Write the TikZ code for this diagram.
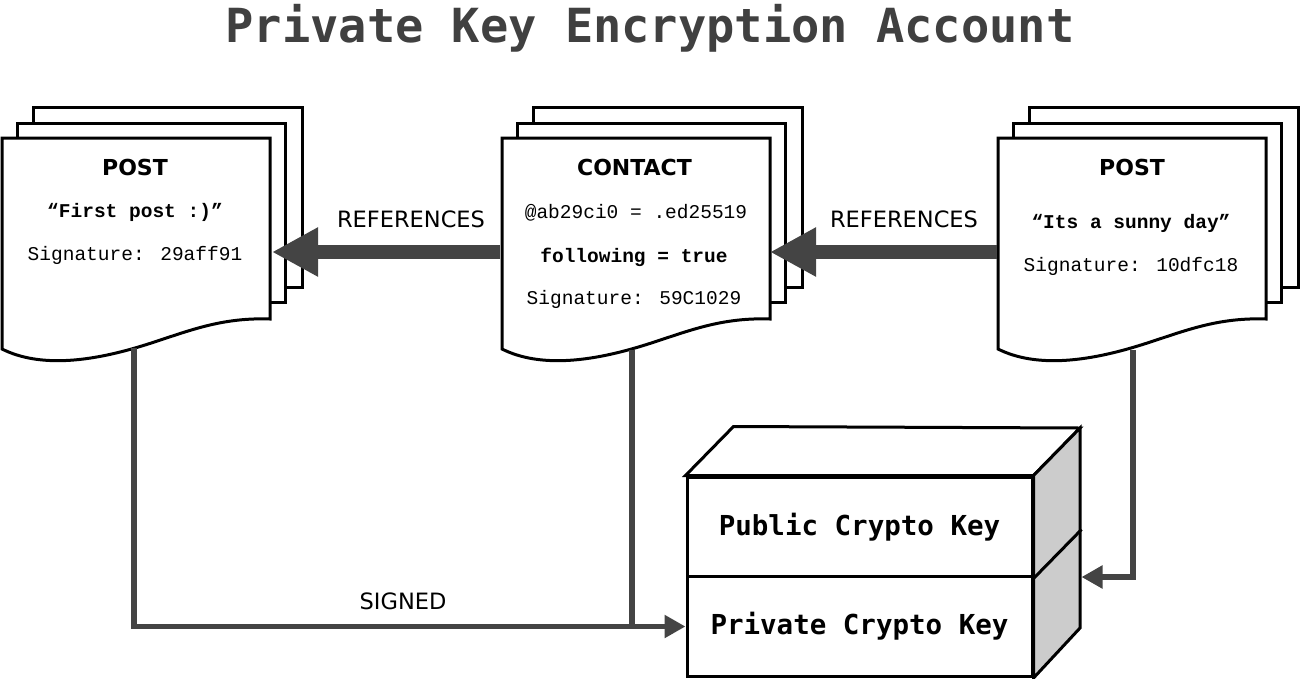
\documentclass[tikz,border=0pt]{standalone}
\usepackage{fontspec}
\setmainfont{DejaVu Sans}
\newfontfamily\dmono{DejaVu Sans Mono}
\newfontfamily\cour{Liberation Mono}
\usetikzlibrary{arrows.meta}
\definecolor{arrowgray}{HTML}{444444}
\definecolor{titlegray}{HTML}{404040}
\definecolor{facegray}{HTML}{CCCCCC}
\tikzset{
  sheet/.style={draw=black, fill=white, line width=3pt, line join=miter},
  doctitle/.style={font=\bfseries\fontsize{22}{26}\selectfont, anchor=base},
  doctext/.style={font=\cour\fontsize{19.5}{23}\selectfont, anchor=base},
  docbold/.style={font=\cour\bfseries\fontsize{19.5}{23}\selectfont, anchor=base},
  reflabel/.style={font=\fontsize{22.5}{26}\selectfont},
  bigarrow/.style={draw=arrowgray, line width=14pt, -{Triangle[length=46pt,width=46pt]}},
  conn/.style={draw=arrowgray, line width=5.5pt, line join=miter},
  connarrow/.style={conn, -{Triangle[length=21pt,width=22pt]}},
  keybox/.style={draw=black, fill=white, line width=3pt, minimum width=345pt, minimum height=100pt, inner sep=0pt, font=\dmono\bfseries\fontsize{27.5}{32}\selectfont},
  boxline/.style={draw=black, line width=3pt, line join=miter},
  docstack/.pic={
    \draw[sheet] (31,-31) rectangle (300,149);
    \draw[sheet] (15,-15) rectangle (283,164);
    \draw[sheet] (0,0) -- (268,0) -- (268,181) .. controls (213,179) and (178,197) .. (133,210) .. controls (88,223) and (38,230) .. (0,211) -- cycle;
  }
}
\begin{document}
\begin{tikzpicture}[x=1pt,y=-1pt]
\useasboundingbox (0,0) rectangle (1300,678);

% title
\node[anchor=base, text=titlegray, font=\dmono\bfseries\fontsize{47}{54}\selectfont] (title) at (650,42) {Private Key Encryption Account};

% document stacks
\pic at (2,138) {docstack};
\pic at (502,138) {docstack};
\pic at (998,138) {docstack};

% left post
\node[doctitle] (p1h) at (135,175) {POST};
\node[docbold] (p1q) at (135,217) {“First post :)”};
\node[doctext] (p1s) at (135,260) {Signature: 29aff91};

% contact
\node[doctitle] (ch) at (634.5,175) {CONTACT};
\node[doctext] (ca) at (636,218) {@ab29ci0 = .ed25519};
\node[docbold] (cf) at (634,262) {following = true};
\node[doctext] (cs) at (634,304) {Signature: 59C1029};

% right post
\node[doctitle] (p2h) at (1132,175) {POST};
\node[docbold] (p2q) at (1131,228) {“Its a sunny day”};
\node[doctext] (p2s) at (1131,271) {Signature: 10dfc18};

% key box
\node[keybox] (pub) at (859.5,527) {Public Crypto Key};
\node[keybox] (priv) at (859.5,626.5) {Private Crypto Key};
\coordinate (tb) at (1080,428);
\coordinate (bb) at (1080,628);
\draw[boxline, fill=white] (pub.north west) -- ++(48,-49) -- (tb) -- (pub.north east) -- cycle;
\draw[boxline, fill=facegray] (pub.north east) -- (tb) -- (bb) -- (priv.south east) -- cycle;
\draw[boxline] (pub.south east) -- ++(48,-49);

% connector coordinates
\coordinate (p1r) at (272,252);
\coordinate (cl) at (500,252);
\coordinate (cr) at (770,252);
\coordinate (p2l) at (996.5,252);
\coordinate (p1b) at (134,348);
\coordinate (cb) at (632,350);
\coordinate (p2b) at (1133,350);
\coordinate (boxr) at (1081.5,577);

% references arrows
\draw[bigarrow] (cl) -- (p1r);
\draw[bigarrow] (p2l) -- (cr);
\node[reflabel] (ref1) at (411,219) {REFERENCES};
\node[reflabel] (ref2) at (904,219) {REFERENCES};

% signed connectors
\draw[connarrow] (p1b) |- (priv.west);
\draw[conn] (cb) -- (cb |- priv.west);
\draw[connarrow] (p2b) |- (boxr);
\node[reflabel] (sig) at (403,601) {SIGNED};
\end{tikzpicture}
\end{document}
